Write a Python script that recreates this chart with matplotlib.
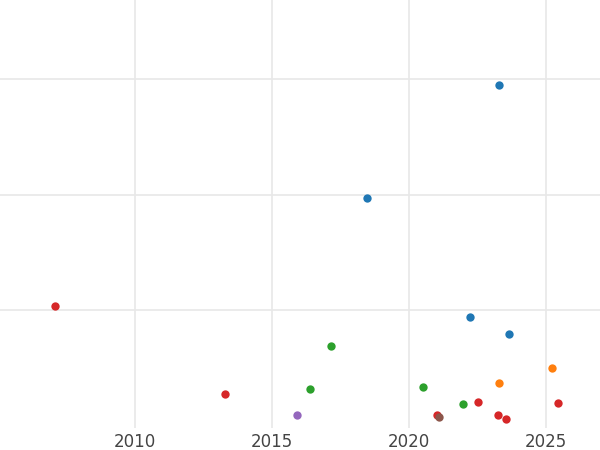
import matplotlib
matplotlib.use("Agg")
import matplotlib.pyplot as plt

# points grouped by colour (year, value)
blue_x = [2023.3, 2018.47, 2022.23, 2023.65]
blue_y = [2.95, 1.97, 0.94, 0.80]
red_x = [2007.08, 2013.28, 2022.52, 2025.44, 2021.02, 2023.25, 2023.54]
red_y = [1.04, 0.28, 0.21, 0.20, 0.10, 0.10, 0.06]
green_x = [2017.15, 2016.39, 2020.51, 2021.97]
green_y = [0.69, 0.32, 0.34, 0.19]
orange_x = [2025.22, 2023.28]
orange_y = [0.50, 0.37]
purple_x = [2015.91]
purple_y = [0.10]
brown_x = [2021.09]
brown_y = [0.08]

fig = plt.figure(figsize=(6, 4.5), dpi=100)
ax = fig.add_axes([0, 0.05, 1, 0.95])
groups = [(blue_x, blue_y, "#1f77b4"), (green_x, green_y, "#2ca02c"),
          (orange_x, orange_y, "#ff7f0e"), (purple_x, purple_y, "#9467bd"),
          (red_x, red_y, "#d62728"), (brown_x, brown_y, "#8c564b")]
for xs, ys, c in groups:
    ax.scatter(xs, ys, s=36, color=c, zorder=3, linewidths=0)

ax.set_xlim(2005.07, 2026.97)
ax.set_ylim(-0.01, 3.68)
ax.set_xticks([2010, 2015, 2020, 2025])
ax.set_yticks([1, 2, 3])
ax.set_yticklabels([])
ax.tick_params(length=0, labelsize=12, labelcolor="#444444", pad=4)
ax.grid(color="#e8e8e8", lw=1.2)
ax.set_axisbelow(True)
for s in ax.spines.values():
    s.set_visible(False)
fig.savefig("out.png", dpi=100)
